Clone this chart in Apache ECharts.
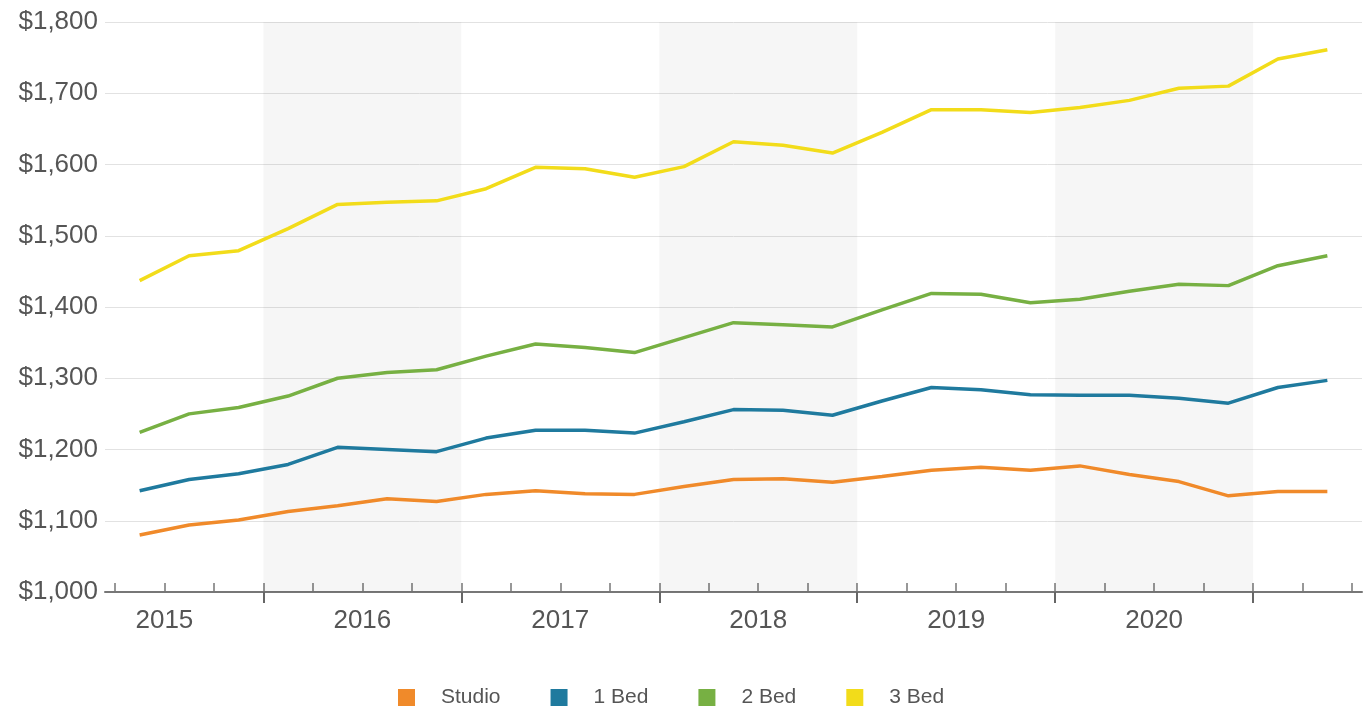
<!DOCTYPE html>
<html>
<head>
<meta charset="utf-8">
<script src="https://cdn.jsdelivr.net/npm/echarts@6/dist/echarts.min.js"></script>
<style>
  html, body { margin: 0; padding: 0; background: #fff; }
  #main { width: 1372px; height: 711px; }
</style>
</head>
<body>
<div id="main"></div>
<script>
var quarters = [
  "2015 Q2", "2015 Q3", "2015 Q4",
  "2016 Q1", "2016 Q2", "2016 Q3", "2016 Q4",
  "2017 Q1", "2017 Q2", "2017 Q3", "2017 Q4",
  "2018 Q1", "2018 Q2", "2018 Q3", "2018 Q4",
  "2019 Q1", "2019 Q2", "2019 Q3", "2019 Q4",
  "2020 Q1", "2020 Q2", "2020 Q3", "2020 Q4",
  "2021 Q1", "2021 Q2"
];
var years = [2015, 2016, 2017, 2018, 2019, 2020];
var shadedYears = [2016, 2018, 2020];

var studio = [1080, 1094, 1101, 1113, 1121, 1131, 1127, 1137, 1142, 1138, 1137, 1148, 1158,
  1159, 1154, 1162, 1171, 1175, 1171, 1177, 1165, 1155, 1135, 1141, 1141];
var bed1 = [1142, 1158, 1166, 1179, 1203, 1200, 1197, 1216, 1227, 1227, 1223, 1239, 1256,
  1255, 1248, 1268, 1287, 1284, 1277, 1276, 1276, 1272, 1265, 1287, 1297];
var bed2 = [1224, 1250, 1259, 1275, 1300, 1308, 1312, 1331, 1348, 1343, 1336, 1357, 1378,
  1375, 1372, 1396, 1419, 1418, 1406, 1411, 1422, 1432, 1430, 1458, 1472];
var bed3 = [1437, 1472, 1479, 1510, 1544, 1547, 1549, 1566, 1596, 1594, 1582, 1597, 1632,
  1627, 1616, 1645, 1677, 1677, 1673, 1680, 1690, 1707, 1710, 1748, 1761];

// quarter position on the x axis: 0 = start of 2015, 1 unit = one quarter
function qPos(label) {
  var y = parseInt(label.slice(0, 4), 10);
  var q = parseInt(label.slice(-1), 10);
  return (y - 2015) * 4 + (q - 1) + 0.5;
}
function pairs(values) {
  return values.map(function (v, i) { return [qPos(quarters[i]), v]; });
}

var minorTicks = [];
for (var t = 1; t <= 26; t++) minorTicks.push(t);
var majorTicks = [4, 8, 12, 16, 20, 24];
var labelPos = years.map(function (y) { return (y - 2015) * 4 + 2; });

var chartDom = document.getElementById("main");
var myChart = echarts.init(chartDom);
var font = "Liberation Sans, Arial, sans-serif";

var option = {
  animation: false,
  color: ["#f08a2a", "#1f7a9e", "#77b043", "#f2dc1a"],
  grid: { left: 105, right: 10, top: 22, bottom: 119 },
  legend: {
    left: 393,
    top: 682,
    icon: "rect",
    itemWidth: 17,
    itemHeight: 17,
    itemGap: 50,
    textStyle: { fontFamily: font, fontSize: 21, color: "#555", padding: [0, 0, 0, 21] },
    data: ["Studio", "1 Bed", "2 Bed", "3 Bed"]
  },
  xAxis: [
    {
      type: "value",
      min: 0.8,
      max: 26.2,
      position: "bottom",
      splitLine: { show: false },
      axisLine: { show: true, lineStyle: { color: "#777", width: 2 } },
      axisTick: {
        show: true, inside: true, length: 9, customValues: minorTicks,
        lineStyle: { color: "#777", width: 1.5 }
      },
      axisLabel: {
        customValues: labelPos,
        margin: 16,
        fontFamily: font,
        fontSize: 26,
        color: "#555",
        formatter: function (v) { return String(2015 + Math.round((v - 2) / 4)); }
      }
    },
    {
      type: "value",
      min: 0.8,
      max: 26.2,
      position: "bottom",
      offset: 0,
      splitLine: { show: false },
      axisLine: { show: false },
      axisTick: {
        show: true, inside: false, length: 11, customValues: majorTicks,
        lineStyle: { color: "#666", width: 2 }
      },
      axisLabel: { show: false }
    }
  ],
  yAxis: {
    type: "value",
    min: 1000,
    max: 1800,
    interval: 100,
    axisLine: { show: false },
    axisTick: { show: false },
    splitLine: { lineStyle: { color: "#e2e2e2", width: 1 } },
    axisLabel: {
      margin: 7,
      fontFamily: font,
      fontSize: 26,
      color: "#555",
      formatter: function (v) { return "$" + v.toLocaleString("en-US"); }
    }
  },
  series: [
    {
      name: "Studio",
      type: "line",
      data: pairs(studio),
      showSymbol: false,
      lineStyle: { width: 3.5 },
      markArea: {
        silent: true,
        itemStyle: { color: "rgba(0,0,0,0.035)" },
        data: shadedYears.map(function (y) {
          var s = (y - 2015) * 4;
          return [{ xAxis: s }, { xAxis: s + 4 }];
        })
      }
    },
    { name: "1 Bed", type: "line", data: pairs(bed1), showSymbol: false, lineStyle: { width: 3.5 } },
    { name: "2 Bed", type: "line", data: pairs(bed2), showSymbol: false, lineStyle: { width: 3.5 } },
    { name: "3 Bed", type: "line", data: pairs(bed3), showSymbol: false, lineStyle: { width: 3.5 } }
  ]
};

option && myChart.setOption(option);
</script>
</body>
</html>
